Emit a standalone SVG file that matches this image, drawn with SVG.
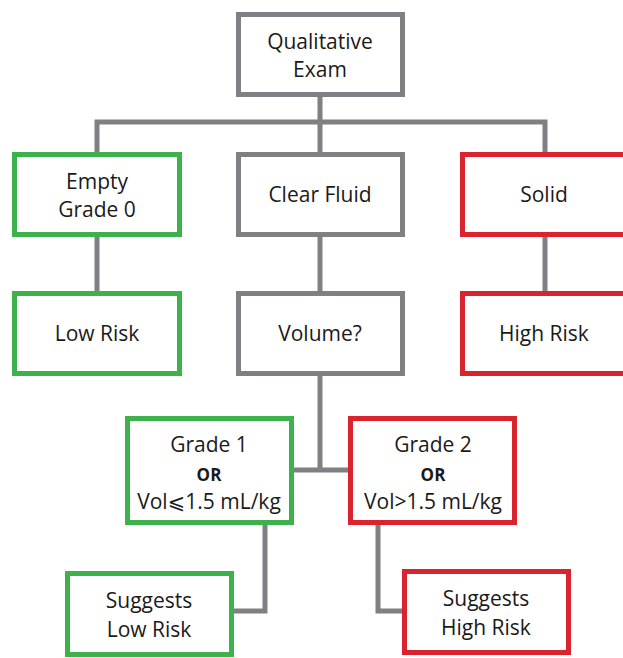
<svg xmlns="http://www.w3.org/2000/svg" width="623" height="658" viewBox="0 0 623 658">
<style>
.box{fill:#fff;stroke-width:5}
.g{stroke:#808084}
.gr{stroke:#3db14a}
.r{stroke:#d9242f}
text{font-family:"Open Sans","Noto Sans","DejaVu Sans",sans-serif;font-size:21px;fill:#1a1a1a;text-anchor:middle}
.b{font-weight:bold;font-size:17px}
.c{fill:none;stroke:#808084;stroke-width:5}
</style>
<g id="connectors">
<path class="c" d="M320 96V122M97 152V122H545V152M320 122V152"/>
<path class="c" d="M97 236V291M320 236V291M545 236V291"/>
<path class="c" d="M320 376V470M293 470H348"/>
<path class="c" d="M265 524V611H233"/>
<path class="c" d="M378 524V611H402"/>
</g>
<g id="qualitative"><rect class="box g" x="238.5" y="14.5" width="164" height="80"/><text x="320" y="49">Qualitative</text><text x="320" y="77">Exam</text></g>
<g id="empty"><rect class="box gr" x="14.5" y="154.5" width="165" height="80"/><text x="97" y="189">Empty</text><text x="97" y="217">Grade 0</text></g>
<g id="clear"><rect class="box g" x="238.5" y="154.5" width="164" height="80"/><text x="320" y="202">Clear Fluid</text></g>
<g id="solid"><rect class="box r" x="462.5" y="154.5" width="165" height="80"/><text x="544" y="202">Solid</text></g>
<g id="lowrisk"><rect class="box gr" x="14.5" y="293.5" width="165" height="80"/><text x="97" y="341">Low Risk</text></g>
<g id="volume"><rect class="box g" x="238.5" y="293.5" width="164" height="80"/><text x="320" y="341">Volume?</text></g>
<g id="highrisk"><rect class="box r" x="462.5" y="293.5" width="165" height="80"/><text x="544" y="341">High Risk</text></g>
<g id="grade1"><rect class="box gr" x="127.5" y="418.5" width="164" height="104"/><text x="209" y="452">Grade 1</text><text class="b" x="209" y="481">OR</text><text x="209" y="509">Vol⩽1.5 mL/kg</text></g>
<g id="grade2"><rect class="box r" x="350.5" y="418.5" width="164" height="104"/><text x="433" y="452">Grade 2</text><text class="b" x="433" y="481">OR</text><text x="433" y="509">Vol&gt;1.5 mL/kg</text></g>
<g id="suggestlow"><rect class="box gr" x="67.5" y="573.5" width="164" height="81"/><text x="149" y="608">Suggests</text><text x="149" y="637">Low Risk</text></g>
<g id="suggesthigh"><rect class="box r" x="404.5" y="571.5" width="164" height="81"/><text x="486" y="606">Suggests</text><text x="486" y="635">High Risk</text></g>
</svg>
